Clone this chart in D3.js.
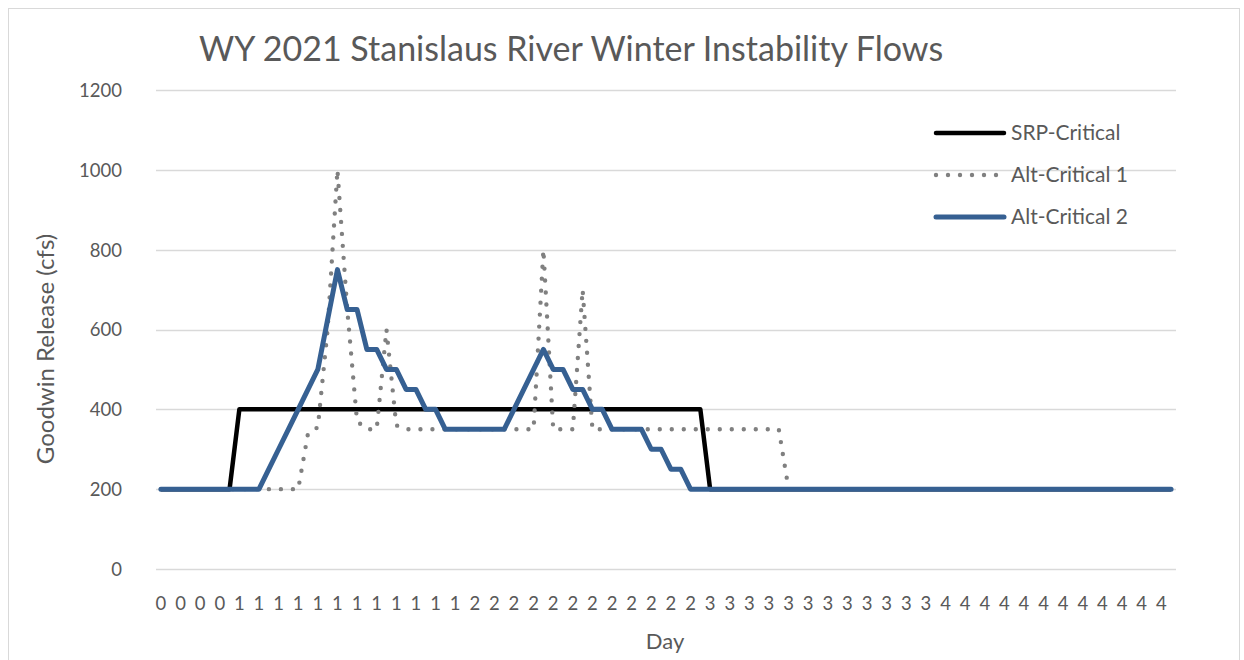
<!DOCTYPE html>
<html><head><meta charset="utf-8">
<script src="https://cdn.jsdelivr.net/npm/d3@7"></script>
<style>
html,body{margin:0;padding:0;background:#fff;}
text{font-family:Lato,"Open Sans",sans-serif;fill:#595959;}
</style></head>
<body>
<svg id="chart" width="1244" height="660"></svg>
<script>
const title = "WY 2021 Stanislaus River Winter Instability Flows";
const yTicks = [0, 200, 400, 600, 800, 1000, 1200];
const xTickLabels = ["0","0","0","0",
  "1","1","1","1","1","1","1","1","1","1","1","1",
  "2","2","2","2","2","2","2","2","2","2","2","2",
  "3","3","3","3","3","3","3","3","3","3","3","3",
  "4","4","4","4","4","4","4","4","4","4","4","4"];
const seriesNames = ["SRP-Critical", "Alt-Critical 1", "Alt-Critical 2"];
const srpCritical = [
  200,200,200,200,200,200,200,200,
  400,400,400,400,400,400,400,400,400,400,400,400,400,400,400,400,
  400,400,400,400,400,400,400,400,400,400,400,400,400,400,400,400,
  400,400,400,400,400,400,400,400,400,400,400,400,400,400,400,400,
  200,200,200,200,200,200,200,200,200,200,200,200,200,200,200,200,
  200,200,200,200,200,200,200,200,200,200,200,200,200,200,200,200,
  200,200,200,200,200,200,200,200,200,200,200,200,200,200,200,200];
const altCritical1 = [
  200,200,200,200,200,200,200,200,200,200,200,200,200,200,200,
  340,355,600,1000,650,370,350,350,600,360,
  350,350,350,350,350,350,350,350,350,350,350,350,350,350,
  800,350,350,350,700,
  350,350,350,350,350,350,350,350,350,350,350,350,350,350,350,350,350,350,350,350,
  200,200,200,200,200,200,200,200,200,200,200,200,200,200,200,200,200,200,200,200,
  200,200,200,200,200,200,200,200,200,200,200,200,200,200,200,200,200,200,200,200];
const altCritical2 = [
  200,200,200,200,200,200,200,200,200,200,200,
  250,300,350,400,450,500,625,750,650,650,550,550,500,500,450,450,400,400,
  350,350,350,350,350,350,350,
  400,450,500,550,500,500,450,450,400,400,
  350,350,350,350,
  300,300,250,250,
  200,200,200,200,200,200,200,200,200,200,200,200,200,200,200,200,200,200,200,200,200,200,200,200,200,
  200,200,200,200,200,200,200,200,200,200,200,200,200,200,200,200,200,200,200,200,200,200,200,200,200];

const svg = d3.select("#chart");
// outer border
svg.append("rect").attr("x",8.5).attr("y",8.5).attr("width",1231).attr("height",670)
  .attr("fill","#fff").attr("stroke","#d9d9d9").attr("stroke-width",1);

const idx = d3.range(srpCritical.length);
const x = d3.scaleBand().domain(idx).range([156, 1176]);
const px = i => x(i) + x.bandwidth()/2;
const y = d3.scaleLinear().domain([0, 1200]).range([569, 90]);

// gridlines
svg.append("g").selectAll("line").data(yTicks).join("line")
  .attr("x1", 156).attr("x2", 1176)
  .attr("y1", d => Math.round(y(d))+0.5).attr("y2", d => Math.round(y(d))+0.5)
  .attr("stroke", "#d9d9d9").attr("stroke-width", 1.3);

// y axis labels
const yAxis = d3.axisLeft(y).tickValues(yTicks).tickSize(0).tickPadding(0).tickFormat(d3.format("d"));
const gy = svg.append("g").attr("transform","translate(122,0)").call(yAxis);
gy.select(".domain").remove();
gy.selectAll("text").attr("font-size",18.5).style("font-family","Lato").attr("fill","#595959").attr("dy","0.35em").attr("x",0);

// x axis labels
const labelIdx = idx.filter(i => i % 2 === 0);
const xAxis = d3.axisBottom(x).tickValues(labelIdx).tickSize(0).tickPadding(0)
  .tickFormat((d) => xTickLabels[d/2]);
const gx = svg.append("g").attr("transform","translate(0,597)").call(xAxis);
gx.select(".domain").remove();
gx.selectAll("text").attr("font-size",18.5).style("font-family","Lato").attr("fill","#595959").attr("dy","0.71em").attr("y",0);

// lines
const line = d3.line().x((d,i) => px(i)).y(d => y(d));
const styles = [
  {data: srpCritical, color:"#000000", width:4.5, dash:null, cap:"butt"},
  {data: altCritical1, color:"#808080", width:4.4, dash:"0 12", cap:"round"},
  {data: altCritical2, color:"#366092", width:5, dash:null, cap:"round"}
];
styles.forEach(s => {
  svg.append("path").datum(s.data).attr("d", line)
    .attr("fill","none").attr("stroke", s.color).attr("stroke-width", s.width)
    .attr("stroke-linejoin","round").attr("stroke-linecap", s.cap)
    .attr("stroke-dasharray", s.dash);
});

// legend
const legY = [133, 175, 217];
const leg = svg.append("g");
styles.forEach((s, k) => {
  leg.append("line").attr("x1", 936).attr("x2", 1004).attr("y1", legY[k]).attr("y2", legY[k])
    .attr("stroke", s.color).attr("stroke-width", s.width)
    .attr("stroke-linecap","round").attr("stroke-dasharray", s.dash);
  leg.append("text").attr("x", 1011).attr("y", legY[k]).attr("dy","0.35em")
    .attr("font-size", 21).text(seriesNames[k]);
});

// title
svg.append("text").attr("x", 199).attr("y", 61).attr("font-size", 34).text(title);
// axis titles
svg.append("text").attr("x", 665).attr("y", 649).attr("text-anchor","middle").attr("font-size", 22).text("Day");
svg.append("text").attr("transform","translate(54,349) rotate(-90)").attr("text-anchor","middle")
  .attr("font-size", 24).text("Goodwin Release (cfs)");
</script>
</body></html>
